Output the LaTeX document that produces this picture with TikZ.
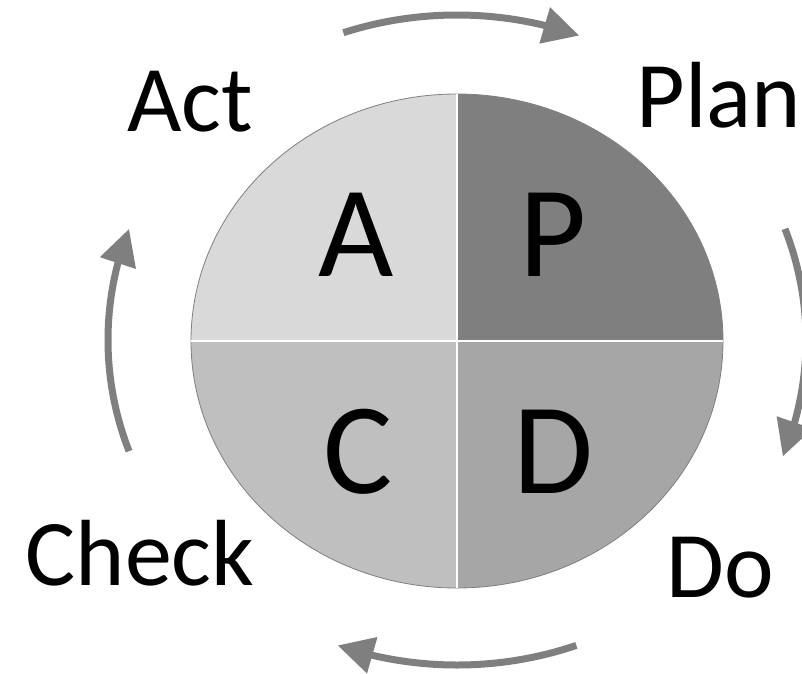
\documentclass[tikz,border=0pt]{standalone}
\usepackage{fontspec}
\setmainfont{Carlito}
\usetikzlibrary{arrows.meta,bending}
\definecolor{colA}{HTML}{D9D9D9}
\definecolor{colP}{HTML}{7F7F7F}
\definecolor{colC}{HTML}{BFBFBF}
\definecolor{colD}{HTML}{A6A6A6}
\definecolor{arrcol}{HTML}{7F7F7F}
\tikzset{
  biglet/.style={font=\fontsize{130}{130}\selectfont, anchor=base, inner sep=0pt},
  lbl/.style={font=\fontsize{94}{94}\selectfont, anchor=base, inner sep=0pt},
  cyc/.style={draw=arrcol, line width=7pt, -{Triangle[length=36pt,width=36pt,flex]}},
  divider/.style={draw=white, line width=2pt},
}
\begin{document}
\begin{tikzpicture}[x=1pt,y=1pt]
\useasboundingbox (0,0) rectangle (802,673);
\clip (0,0) rectangle (802,673);
\def\rx{266}\def\ry{247}
\coordinate (c) at (457,332);
% quadrants
\fill[colP] (c) -- ++(\rx,0) arc[start angle=0,end angle=90,x radius=\rx,y radius=\ry] -- cycle;
\fill[colA] (c) -- ++(0,\ry) arc[start angle=90,end angle=180,x radius=\rx,y radius=\ry] -- cycle;
\fill[colC] (c) -- ++(-\rx,0) arc[start angle=180,end angle=270,x radius=\rx,y radius=\ry] -- cycle;
\fill[colD] (c) -- ++(0,-\ry) arc[start angle=270,end angle=360,x radius=\rx,y radius=\ry] -- cycle;
\draw[draw=colP, line width=0.8pt] (c) ellipse[x radius=\rx,y radius=\ry];
\path[divider] (c) ++(-\rx,0) -- ++(2*\rx,0);
\path[divider] (c) ++(0,-\ry) -- ++(0,2*\ry);
% big letters
\node[biglet] (A) at (356,397) {A};
\node[biglet] (P) at (553,397) {P};
\node[biglet] (C) at (358,180) {C};
\node[biglet] (D) at (553,180) {D};
% labels
\node[lbl] (act) at (190,541) {Act};
\node[lbl] (plan) at (719,545) {Plan};
\node[lbl] (check) at (140,88) {Check};
\node[lbl] (do) at (720,76) {Do};
% cycle arrows
\def\arx{349}\def\ary{325}
\coordinate (ac) at (457,333);
\draw[cyc] (ac) ++(109:\arx pt and \ary pt) arc[start angle=109,end angle=69.5,x radius=\arx,y radius=\ary];
\draw[cyc] (ac) ++(20:\arx pt and \ary pt) arc[start angle=20,end angle=-21,x radius=\arx,y radius=\ary];
\draw[cyc] (ac) ++(-70:\arx pt and \ary pt) arc[start angle=-70,end angle=-110,x radius=\arx,y radius=\ary];
\draw[cyc] (ac) ++(200:\arx pt and \ary pt) arc[start angle=200,end angle=160,x radius=\arx,y radius=\ary];
\end{tikzpicture}
\end{document}
